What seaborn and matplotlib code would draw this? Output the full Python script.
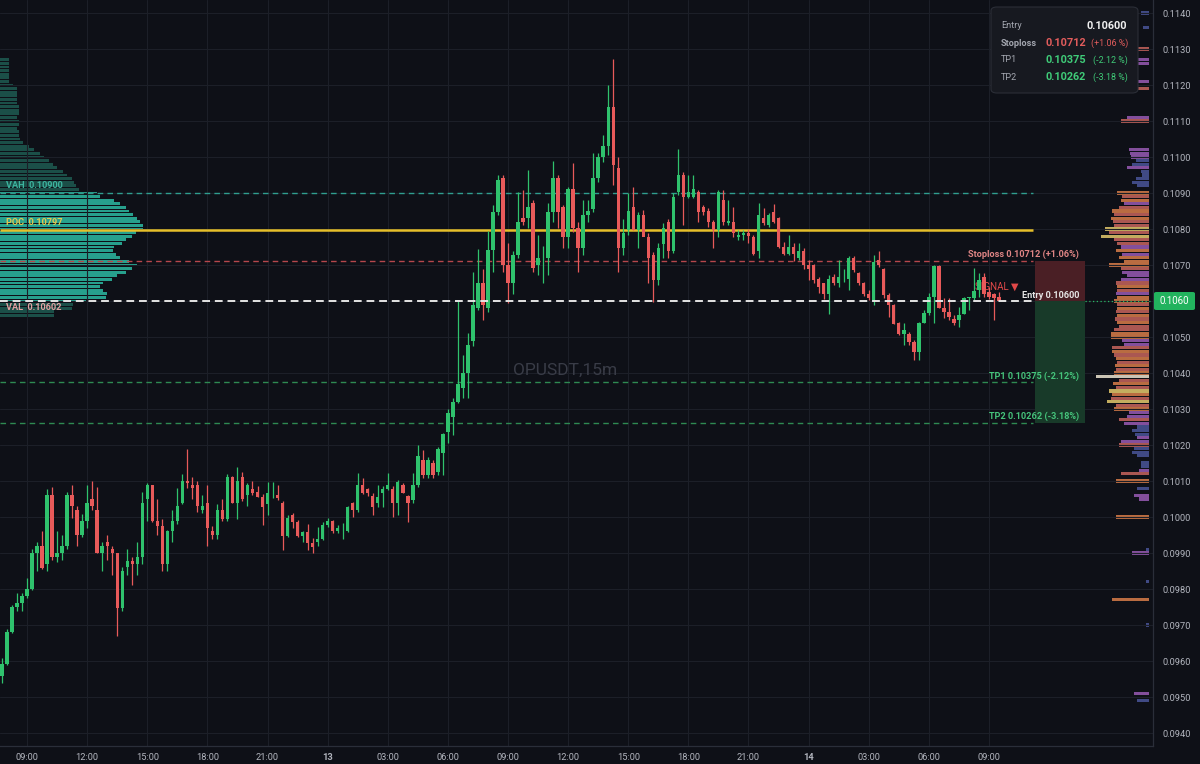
import matplotlib

matplotlib.use("Agg")

import matplotlib.pyplot as plt
import numpy as np
import pandas as pd
import seaborn as sns
from matplotlib.patches import FancyBboxPatch, Rectangle

FIG_W, FIG_H = 1200, 764
PLOT_RIGHT, PLOT_BOTTOM = 1153, 746

BG = "#0e1017"
GRID = "#1c1f28"
AXIS_TEXT = "#b2b5be"
UP = "#2fc26d"
DOWN = "#e85a5a"

# OPUSDT 15m candles (12 Mar 07:45 -> 14 Mar 09:30)
opens = [
    .09558, .09591, .09681, .09750, .09760, .09780, .09800, .09900, .09920, .09870,
    .10060, .09890, .09900, .09920, .10060, .10020, .09949, .09990, .10050, .10020,
    .09900, .09930, .09910, .09900, .09748, .09860, .09878, .09870, .09890, .10050,
    .10090, .09990, .09975, .09870, .09960, .09990, .10040, .10100, .10090, .10090,
    .10020, .10040, .09960, .09950, .10020, .09995, .10110, .10040, .10110, .10060,
    .10078, .10070, .10056, .10035, .10060, .10061, .10040, .09947, .10005, .09987,
    .09947, .09957, .09927, .09930, .09940, .09978, .09990, .09960, .09960, .09962,
    .10038, .10020, .10089, .10078, .10057, .10038, .10066, .10078, .10078, .10038,
    .10089, .10057, .10047, .10089, .10159, .10117, .10149, .10126, .10177, .10237,
    .10279, .10320, .10358, .10399, .10488, .10580, .10649, .10580, .10742, .10848,
    .10941, .10700, .10649, .10728, .10830, .10830, .10872, .10700, .10710, .10719,
    .10848, .10941, .10860, .10779, .10911, .10802, .10748, .10839, .10856, .10941,
    .11001, .11031, .11140, .10969, .10748, .10797, .10860, .10797, .10839, .10779,
    .10728, .10658, .10757, .10820, .10740, .10902, .10950, .10890, .10890, .10902,
    .10860, .10850, .10820, .10797, .10880, .10818, .10820, .10779, .10782, .10790,
    .10779, .10740, .10830, .10811, .10848, .10830, .10751, .10731, .10751, .10719,
    .10740, .10700, .10700, .10660, .10649, .10620, .10667, .10649, .10660, .10662,
    .10719, .10679, .10649, .10620, .10600, .10714, .10688, .10617, .10589, .10538,
    .10508, .10508, .10487, .10459, .10540, .10568, .10610, .10697, .10580, .10569,
    .10549, .10547, .10565, .10607, .10607, .10630, .10668, .10625, .10620, .10610,
]
highs = [
    .09609, .09690, .09755, .09790, .09790, .09830, .09910, .09930, .09960, .10079,
    .10082, .09960, .09950, .10070, .10090, .10030, .10007, .10090, .10100, .10082,
    .09930, .09950, .09920, .09900, .09860, .09910, .09890, .09930, .10070, .10095,
    .10090, .10050, .09995, .09965, .10020, .10080, .10120, .10190, .10110, .10100,
    .10060, .10090, .09975, .10035, .10050, .10120, .10115, .10140, .10125, .10095,
    .10100, .10085, .10065, .10098, .10098, .10089, .10045, .10005, .10010, .09992,
    .09962, .09980, .09942, .09972, .09985, .09997, .09993, .09978, .09983, .10030,
    .10043, .10122, .10107, .10080, .10066, .10089, .10085, .10122, .10085, .10103,
    .10094, .10061, .10122, .10200, .10186, .10168, .10159, .10195, .10232, .10299,
    .10330, .10600, .10450, .10510, .10680, .10745, .10690, .10795, .10866, .10950,
    .10950, .10760, .10740, .10904, .10908, .10963, .10880, .10783, .10752, .10871,
    .10989, .10950, .10867, .10917, .10982, .10820, .10880, .10880, .11010, .11010,
    .11061, .11200, .11272, .11001, .10829, .10899, .10917, .10848, .10853, .10788,
    .10737, .10760, .10816, .10829, .10899, .11021, .10959, .10950, .10950, .10908,
    .10867, .10857, .10825, .10908, .10908, .10880, .10860, .10797, .10797, .10800,
    .10783, .10871, .10857, .10844, .10870, .10834, .10765, .10783, .10760, .10760,
    .10746, .10714, .10704, .10667, .10651, .10672, .10676, .10714, .10690, .10725,
    .10725, .10681, .10653, .10630, .10728, .10740, .10693, .10621, .10593, .10542,
    .10538, .10515, .10491, .10542, .10575, .10621, .10700, .10700, .10608, .10608,
    .10561, .10584, .10612, .10612, .10691, .10677, .10677, .10640, .10621, .10625,
]
lows = [
    .09540, .09590, .09678, .09740, .09740, .09775, .09798, .09850, .09855, .09850,
    .09880, .09875, .09880, .09910, .09997, .09919, .09945, .09970, .10020, .09900,
    .09850, .09880, .09840, .09669, .09740, .09840, .09810, .09840, .09870, .09990,
    .09985, .09950, .09850, .09850, .09930, .09980, .10035, .10080, .10050, .10015,
    .10010, .09920, .09940, .09940, .09990, .09990, .10040, .09995, .10045, .10030,
    .10060, .10055, .09978, .10005, .10052, .10048, .09908, .09945, .09970, .09945,
    .09930, .09908, .09900, .09920, .09935, .09973, .09955, .09955, .09940, .09958,
    .10000, .10015, .10065, .10057, .10005, .10029, .10029, .10075, .10000, .10005,
    .10066, .09987, .10038, .10084, .10108, .10108, .10108, .10117, .10117, .10205,
    .10228, .10316, .10330, .10330, .10474, .10575, .10547, .10570, .10681, .10840,
    .10681, .10594, .10620, .10720, .10810, .10802, .10681, .10672, .10649, .10672,
    .10820, .10802, .10746, .10746, .10792, .10681, .10728, .10820, .10848, .10931,
    .10987, .11005, .10922, .10681, .10728, .10783, .10797, .10746, .10783, .10649,
    .10598, .10644, .10719, .10719, .10734, .10895, .10811, .10885, .10885, .10820,
    .10839, .10806, .10748, .10778, .10811, .10811, .10779, .10769, .10769, .10760,
    .10728, .10719, .10811, .10806, .10816, .10746, .10728, .10728, .10710, .10714,
    .10690, .10658, .10649, .10621, .10605, .10565, .10644, .10640, .10653, .10630,
    .10681, .10644, .10614, .10603, .10589, .10695, .10607, .10556, .10536, .10505,
    .10478, .10478, .10436, .10436, .10538, .10561, .10538, .10580, .10552, .10547,
    .10533, .10527, .10565, .10575, .10602, .10612, .10612, .10605, .10547, .10600,
]
closes = [
    .09591, .09681, .09750, .09762, .09780, .09800, .09900, .09920, .09857, .10060,
    .09890, .09900, .09920, .10060, .10030, .09949, .09989, .10040, .10030, .09900,
    .09920, .09920, .09900, .09748, .09850, .09878, .09870, .09890, .10040, .10090,
    .09990, .09975, .09870, .09960, .09990, .10030, .10100, .10095, .10080, .10030,
    .10030, .09970, .09950, .10020, .09995, .10110, .10040, .10100, .10050, .10090,
    .10066, .10056, .10029, .10068, .10061, .10052, .09947, .09996, .09987, .09947,
    .09957, .09927, .09918, .09940, .09978, .09990, .09960, .09969, .09962, .10029,
    .10020, .10089, .10068, .10066, .10029, .10056, .10078, .10089, .10038, .10098,
    .10066, .10038, .10089, .10169, .10117, .10159, .10117, .10188, .10230, .10288,
    .10320, .10369, .10399, .10478, .10589, .10649, .10589, .10742, .10848, .10936,
    .10700, .10649, .10728, .10820, .10820, .10860, .10691, .10719, .10712, .10848,
    .10941, .10848, .10779, .10911, .10802, .10748, .10839, .10850, .10941, .11001,
    .11031, .11140, .10978, .10748, .10788, .10850, .10797, .10839, .10779, .10719,
    .10658, .10748, .10802, .10740, .10890, .10950, .10890, .10902, .10911, .10848,
    .10848, .10820, .10797, .10902, .10820, .10822, .10788, .10782, .10788, .10780,
    .10731, .10839, .10818, .10839, .10820, .10751, .10731, .10751, .10731, .10740,
    .10700, .10690, .10658, .10640, .10620, .10660, .10649, .10668, .10662, .10719,
    .10686, .10649, .10620, .10607, .10709, .10700, .10617, .10589, .10536, .10508,
    .10520, .10487, .10459, .10538, .10568, .10610, .10697, .10580, .10569, .10556,
    .10538, .10561, .10607, .10610, .10629, .10658, .10620, .10610, .10607, .10600,
]

time_labels = ["09:00", "12:00", "15:00", "18:00", "21:00", "13", "03:00", "06:00", "09:00",
               "12:00", "15:00", "18:00", "21:00", "14", "03:00", "06:00", "09:00"]
first_label_candle = 5   # 09:00 on the 12th
candles_per_label = 12   # 3 hours of 15m candles

price_ticks = [0.0940, 0.0950, 0.0960, 0.0970, 0.0980, 0.0990, 0.1000, 0.1010, 0.1020, 0.1030,
               0.1040, 0.1050, 0.1060, 0.1070, 0.1080, 0.1090, 0.1100, 0.1110, 0.1120, 0.1130, 0.1140]

vah, poc, val = 0.10900, 0.10797, 0.10602
entry, stoploss, tp1, tp2 = 0.10600, 0.10712, 0.10375, 0.10262
last_price = 0.1060

# session volume profile (left), relative volume per 0.0001 row, top row first
lp_top = 0.1127
lp_step = 0.0001
lp_vol = [
    6, 6, 6, 6, 6, 6, 6, 9, 12, 12,
    12, 12, 12, 13, 13, 13, 12, 13, 13, 12,
    13, 13, 14, 16, 20, 24, 28, 31, 34, 37,
    40, 44, 47, 50, 52, 53, 55, 68, 70, 80,
    84, 88, 90, 93, 96, 98, 100, 100, 95, 92,
    88, 85, 80, 79, 81, 84, 90, 96, 92, 88,
    82, 78, 72, 70, 72, 75, 74, 60, 51, 50,
    38, 38,
]

# visible range profile (right)
rp_price = [
    0.1140, 0.1136, 0.1130, 0.1127, 0.1126, 0.1121, 0.1119, 0.1111, 0.1110, 0.1102,
    0.1101, 0.1100, 0.1099, 0.1098, 0.1097, 0.1096, 0.1095, 0.1094, 0.1093, 0.1092,
    0.1090, 0.1089, 0.1088, 0.1087, 0.1086, 0.1085, 0.1084, 0.1083, 0.1082, 0.1081,
    0.1080, 0.1079, 0.1078, 0.1077, 0.1076, 0.1075, 0.1074, 0.1073, 0.1072, 0.1071,
    0.1070, 0.1069, 0.1068, 0.1067, 0.1066, 0.1065, 0.1064, 0.1063, 0.1062, 0.1061,
    0.1060, 0.1059, 0.1058, 0.1057, 0.1056, 0.1055, 0.1054, 0.1053, 0.1052, 0.1051,
    0.1050, 0.1049, 0.1048, 0.1047, 0.1046, 0.1045, 0.1044, 0.1043, 0.1042, 0.1041,
    0.1040, 0.1039, 0.1038, 0.1037, 0.1036, 0.1035, 0.1034, 0.1033, 0.1032, 0.1031,
    0.1030, 0.1029, 0.1028, 0.1027, 0.1026, 0.1025, 0.1024, 0.1023, 0.1022, 0.1021,
    0.1020, 0.1019, 0.1018, 0.1017, 0.1015, 0.1014, 0.1013, 0.1012, 0.1010, 0.1008,
    0.1006, 0.1005, 0.1000, 0.0991, 0.0990, 0.0982, 0.0977, 0.0970, 0.0951, 0.0949,
]
rp_vol = [
    8, 6, 20, 20, 14, 15, 14, 22, 28, 20,
    19, 18, 13, 17, 22, 8, 7, 13, 17, 12,
    32, 27, 28, 25, 30, 37, 35, 38, 36, 35,
    44, 40, 48, 35, 32, 28, 33, 27, 30, 25,
    40, 28, 27, 22, 28, 33, 32, 32, 33, 32,
    35, 32, 32, 33, 32, 34, 32, 30, 35, 38,
    38, 27, 25, 37, 37, 35, 33, 32, 34, 33,
    35, 53, 30, 36, 33, 40, 37, 38, 42, 33,
    35, 20, 22, 30, 25, 12, 17, 14, 12, 28,
    30, 15, 17, 12, 8, 8, 10, 28, 33, 12,
    15, 10, 33, 3, 17, 3, 37, 3, 15, 12,
]
rp_tone = [
    "blue", "blue", "salmon", "purple", "purple", "purple", "salmon", "purple", "salmon", "purple",
    "purple", "purple", "blue", "blue", "purple", "blue", "blue", "blue", "blue", "blue",
    "orange", "salmon", "orange", "purple", "salmon", "orange", "salmon", "orange", "salmon", "salmon",
    "yellow", "salmon", "yellow", "salmon", "salmon", "purple", "orange", "purple", "orange", "orange",
    "orange", "salmon", "purple", "purple", "purple", "salmon", "orange", "salmon", "purple", "orange",
    "orange", "salmon", "orange", "salmon", "orange", "salmon", "orange", "salmon", "salmon", "orange",
    "orange", "purple", "purple", "salmon", "orange", "salmon", "orange", "salmon", "orange", "salmon",
    "orange", "white", "salmon", "orange", "salmon", "yellow", "orange", "salmon", "yellow", "salmon",
    "orange", "purple", "purple", "salmon", "purple", "blue", "blue", "blue", "purple", "purple",
    "salmon", "blue", "blue", "blue", "blue", "blue", "purple", "salmon", "orange", "blue",
    "purple", "purple", "orange", "blue", "purple", "blue", "orange", "blue", "purple", "blue",
]
rp_palette = {
    "orange": "#c97545",
    "salmon": "#b85e58",
    "purple": "#8e55a8",
    "blue": "#45508f",
    "yellow": "#d4bc66",
    "white": "#dcd6c4",
}

# pixel geometry of the reference (candle 0 sits at x=2px, 5.01px per candle)
CANDLE_X0, CANDLE_DX = 2.0, 5.01
PX_PER_MILLI = 36.0
PRICE_AT_517 = 0.1000


def px_to_index(x):
    return (x - CANDLE_X0) / CANDLE_DX


def px_to_price(y):
    return PRICE_AT_517 + (517 - y) / (PX_PER_MILLI * 1000)


def fig_xy(x, y):
    return x / FIG_W, 1 - y / FIG_H


def draw_candles(ax):
    idx = np.arange(len(closes))
    o, h, l, c = (np.array(v) for v in (opens, highs, lows, closes))
    colors = np.where(c >= o, UP, DOWN)
    bottoms = np.minimum(o, c)
    heights = np.maximum(np.abs(c - o), 0.00002)
    ax.vlines(idx, l, h, colors=colors, linewidth=0.9, zorder=5)
    ax.bar(idx, heights, bottom=bottoms, width=0.68, color=colors, linewidth=0, zorder=6)


def draw_left_profile(fig, rect, ylim):
    levels = np.round(lp_top - lp_step * np.arange(len(lp_vol)), 4)
    df = pd.DataFrame({"price": levels, "vol": lp_vol})
    df["zone"] = np.where((df["price"] >= val - 0.00005) & (df["price"] <= vah + 0.00005), "va", "out")
    axl = fig.add_axes(rect, zorder=1)
    sns.histplot(
        data=df, y="price", weights="vol", hue="zone",
        palette={"va": "#27a08d", "out": "#1b4f48"}, hue_order=["va", "out"],
        binwidth=lp_step, binrange=(levels.min() - lp_step / 2, levels.max() + lp_step / 2),
        multiple="layer", alpha=1, linewidth=0, shrink=0.78, legend=False, ax=axl,
    )
    axl.set_xlim(0, 100 * 150 / 143)
    axl.set_ylim(*ylim)
    axl.axis("off")
    axl.patch.set_alpha(0)


def draw_right_profile(fig, rect, ylim):
    df = pd.DataFrame({"price": rp_price, "vol": rp_vol, "tone": rp_tone})
    axr = fig.add_axes(rect, zorder=1)
    sns.histplot(
        data=df, y="price", weights="vol", hue="tone", palette=rp_palette,
        hue_order=list(rp_palette), binwidth=0.0001,
        binrange=(min(rp_price) - 0.00005, max(rp_price) + 0.00005),
        multiple="layer", alpha=0.92, linewidth=0, shrink=0.86, legend=False, ax=axr,
    )
    axr.set_xlim(59, 0)
    axr.set_ylim(*ylim)
    axr.axis("off")
    axr.patch.set_alpha(0)


def draw_levels(ax):
    x0, x1 = px_to_index(0), px_to_index(1033)
    ax.hlines(vah, x0, x1, colors="#2f9e8f", linewidth=1.0, linestyles=(0, (4, 3)), zorder=4)
    ax.hlines(poc, x0, x1, colors="#e6bf2a", linewidth=1.8, zorder=4)
    ax.hlines(stoploss, x0, x1, colors="#b6474c", linewidth=1.0, linestyles=(0, (4, 3)), zorder=4)
    ax.hlines(entry, x0, x1, colors="#e4e4e4", linewidth=1.4, linestyles=(0, (4, 2.5)), zorder=7)
    ax.hlines([tp1, tp2], x0, x1, colors="#2e8a52", linewidth=1.0, linestyles=(0, (4, 3)), zorder=4)
    ax.hlines(last_price, px_to_index(1085), px_to_index(PLOT_RIGHT), colors="#27b862",
              linewidth=0.9, linestyles=(0, (1, 2)), zorder=4)

    bx0, bx1 = px_to_index(1035), px_to_index(1085)
    ax.add_patch(Rectangle((bx0, entry), bx1 - bx0, stoploss - entry, facecolor="#4a1f25",
                           edgecolor="none", zorder=2))
    ax.add_patch(Rectangle((bx0, tp2), bx1 - bx0, entry - tp2, facecolor="#183a29",
                           edgecolor="none", zorder=2))

    lx = px_to_index(6)
    kw = dict(fontsize=6.6, fontweight="bold", zorder=8)
    ax.annotate("VAH  0.10900", (lx, vah), xytext=(0, 2), textcoords="offset points",
                va="bottom", color="#3db49f", **kw)
    ax.annotate("POC  0.10797", (lx, poc), xytext=(0, 2.5), textcoords="offset points",
                va="bottom", color="#e6c94e", **kw)
    ax.annotate("VAL  0.10602", (lx, val), xytext=(0, -2), textcoords="offset points",
                va="top", color="#e3a3a3", **kw)

    rx = px_to_index(1079)
    ax.annotate("Stoploss 0.10712 (+1.06%)", (rx, stoploss), xytext=(0, 1), textcoords="offset points",
                ha="right", va="bottom", color="#e08585", **kw)
    ax.annotate("Entry 0.10600", (rx, entry), xytext=(0, 1), textcoords="offset points",
                ha="right", va="bottom", color="#e6e6e6", **kw)
    ax.annotate("TP1 0.10375 (-2.12%)", (rx, tp1), xytext=(0, 1), textcoords="offset points",
                ha="right", va="bottom", color="#45c47b", **kw)
    ax.annotate("TP2 0.10262 (-3.18%)", (rx, tp2), xytext=(0, 1), textcoords="offset points",
                ha="right", va="bottom", color="#45c47b", **kw)

    ax.text(px_to_index(975), px_to_price(287), "SIGNAL \u25bc", color="#e04848", fontsize=7,
            va="center", family=["Roboto", "DejaVu Sans"], zorder=3)
    ax.text(px_to_index(565), px_to_price(370), "OPUSDT,15m", color="#393c47", fontsize=12.5,
            ha="center", va="center", zorder=1)


def draw_info_box(fig, ax):
    x0, y0 = fig_xy(991, 93)
    x1, y1 = fig_xy(1138, 7)
    box = FancyBboxPatch((x0, y0), x1 - x0, y1 - y0, boxstyle="round,pad=0,rounding_size=0.005",
                         transform=fig.transFigure, facecolor="#171920", edgecolor="#2b2e37",
                         linewidth=0.8, zorder=10, clip_on=False)
    ax.add_patch(box)

    rows = [
        ("Entry", None, "0.10600", None, "#f0f0f0"),
        ("Stoploss", "0.10712", None, "(+1.06 %)", "#e25c5c"),
        ("TP1", "0.10375", None, "(-2.12 %)", "#3fcb78"),
        ("TP2", "0.10262", None, "(-3.18 %)", "#3fcb78"),
    ]
    for k, (name, value, right_value, pct, color) in enumerate(rows):
        y = 26 + k * 17
        weight = "bold" if name == "Stoploss" else "normal"
        fig.text(*fig_xy(1001, y), name, color="#a4a7b0", fontsize=6.6, fontweight=weight,
                 va="center", zorder=11)
        if value:
            fig.text(*fig_xy(1046, y), value, color=color, fontsize=7.8, fontweight="bold",
                     va="center", zorder=11)
        if right_value:
            fig.text(*fig_xy(1127, y), right_value, color=color, fontsize=7.8, fontweight="bold",
                     ha="right", va="center", zorder=11)
        if pct:
            fig.text(*fig_xy(1128, y), pct, color=color, fontsize=6.4, ha="right", va="center",
                     zorder=11)


def main():
    sns.set_theme(style="dark", rc={"axes.facecolor": BG, "figure.facecolor": BG})
    plt.rcParams["font.family"] = ["Roboto", "DejaVu Sans"]

    fig = plt.figure(figsize=(FIG_W / 100, FIG_H / 100), dpi=100)
    fig.patch.set_facecolor(BG)
    rect = [0, (FIG_H - PLOT_BOTTOM) / FIG_H, PLOT_RIGHT / FIG_W, PLOT_BOTTOM / FIG_H]
    ylim = (px_to_price(PLOT_BOTTOM), px_to_price(0))

    ax = fig.add_axes(rect, zorder=2)
    ax.patch.set_alpha(0)
    ax.set_xlim(px_to_index(0), px_to_index(PLOT_RIGHT))
    ax.set_ylim(*ylim)

    draw_left_profile(fig, [0, rect[1], 150 / FIG_W, rect[3]], ylim)
    draw_right_profile(fig, [1090 / FIG_W, rect[1], 59 / FIG_W, rect[3]], ylim)

    tick_pos = [first_label_candle + candles_per_label * k for k in range(len(time_labels))]
    ax.set_xticks(tick_pos)
    ax.set_xticklabels(time_labels)
    for lab in ax.get_xticklabels():
        if len(lab.get_text()) == 2:
            lab.set_fontweight("bold")
    ax.yaxis.tick_right()
    ax.set_yticks(price_ticks)
    ax.set_yticklabels(["" if abs(p - last_price) < 1e-9 else f"{p:.4f}" for p in price_ticks])
    ax.tick_params(axis="x", length=0, pad=5, labelsize=6.7, labelcolor=AXIS_TEXT)
    ax.tick_params(axis="y", length=0, pad=7, labelsize=6.7, labelcolor=AXIS_TEXT)
    ax.grid(True, color=GRID, linewidth=0.8, zorder=0)
    ax.set_axisbelow(True)
    for side in ("top", "left"):
        ax.spines[side].set_visible(False)
    for side in ("right", "bottom"):
        ax.spines[side].set_color("#2a2e39")
        ax.spines[side].set_linewidth(0.9)

    draw_candles(ax)
    draw_levels(ax)
    draw_info_box(fig, ax)

    # last price tag on the price scale
    tx0, ty0 = fig_xy(1154, 310)
    tx1, ty1 = fig_xy(1195, 292)
    fig.patches.append(FancyBboxPatch((tx0, ty0), tx1 - tx0, ty1 - ty0,
                                      boxstyle="round,pad=0,rounding_size=0.002",
                                      transform=fig.transFigure, facecolor="#22b35e",
                                      edgecolor="none", zorder=5))
    fig.text(*fig_xy(1174.5, 301), "0.1060", color="white", fontsize=6.9, ha="center",
             va="center", zorder=6)

    fig.savefig("out.png", dpi=100, facecolor=BG)
    plt.close(fig)


if __name__ == "__main__":
    main()
